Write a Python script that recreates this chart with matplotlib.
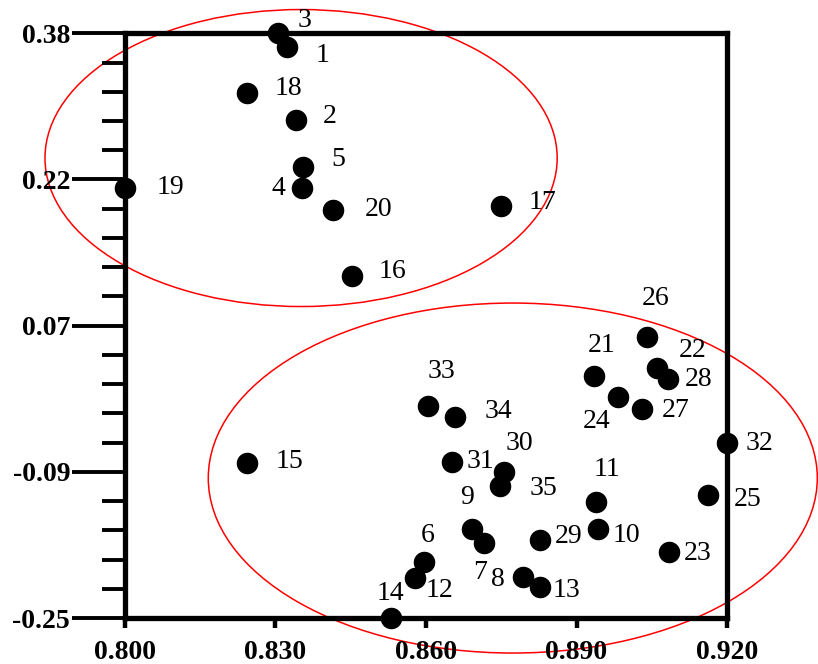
import numpy as np
import matplotlib
matplotlib.use('Agg')
import matplotlib.pyplot as plt
from matplotlib.patches import Ellipse

# sample ids and coordinates
ids = list(range(1, 36))
xs = [0.8322, 0.8341, 0.8304, 0.8352, 0.8355, 0.8596, 0.8716, 0.8794, 0.8691, 0.8942,
      0.8939, 0.8578, 0.8827, 0.8530, 0.8243, 0.8452, 0.8750, 0.8243, 0.8000, 0.8415,
      0.8934, 0.9060, 0.9085, 0.8982, 0.9163, 0.9040, 0.9030, 0.9082, 0.8827, 0.8755,
      0.8652, 0.9200, 0.8603, 0.8658, 0.8748]
ys = [0.3656, 0.2866, 0.3800, 0.2130, 0.2363, -0.1893, -0.1689, -0.2055, -0.1544, -0.1544,
      -0.1247, -0.2072, -0.2163, -0.2500, -0.0833, 0.1185, 0.1939, 0.3154, 0.2136, 0.1896,
      0.0111, 0.0190, -0.1792, -0.0122, -0.1175, 0.0531, -0.0248, 0.0072, -0.1660, -0.0930,
      -0.0816, -0.0618, -0.0212, -0.0338, -0.1078]
x_ticks = [0.800, 0.830, 0.860, 0.890, 0.920]
x_labels = ['0.800', '0.830', '0.860', '0.890', '0.920']
y_labels = ['0.38', '0.22', '0.07', '-0.09', '-0.25']

# label offsets in pixels (dx right, dy down)
offsets = {1: (36, 9), 2: (34, -3), 3: (27, -13), 4: (-23, 0), 5: (35, -7), 6: (4, -26),
           7: (-4, 30), 8: (-25, 3), 9: (-5, -32), 10: (29, 6), 11: (11, -32), 12: (25, 12),
           13: (27, 4), 14: (0, -24), 15: (43, -2), 16: (41, -4), 17: (41, -4), 18: (42, -5),
           19: (45, 0), 20: (45, -1), 21: (8, -30), 22: (36, -18), 23: (28, 1), 24: (-21, 24),
           25: (39, 4), 26: (9, -38), 27: (34, 2), 28: (31, 0), 29: (29, -4), 30: (16, -29),
           31: (28, 0), 32: (32, 0), 33: (14, -34), 34: (43, -6), 35: (43, 2)}

serif = 'Liberation Serif'

fig = plt.figure(figsize=(8.18, 6.64), dpi=100)
ax = fig.add_axes([125 / 818, 46 / 664, 602 / 818, 584.7 / 664])
ax.set_xlim(0.8, 0.92)
ax.set_ylim(-0.25, 0.38)

for s in ax.spines.values():
    s.set_linewidth(3.8)

ax.set_xticks(x_ticks)
ax.set_xticklabels(x_labels, fontfamily=serif, fontweight='bold', fontsize=20)
ax.set_yticks(np.linspace(0.38, -0.25, 5))
ax.set_yticklabels(y_labels, fontfamily=serif, fontweight='bold', fontsize=20)
ax.set_yticks(np.linspace(-0.25, 0.38, 21), minor=True)
ax.tick_params(axis='x', direction='out', length=7.5, width=3.2, pad=8.5)
ax.tick_params(axis='y', which='major', direction='out', length=38, width=2.8, pad=1.5)
ax.tick_params(axis='y', which='minor', direction='out', length=16.5, width=2.8)

ax.scatter(xs, ys, s=210, color='black', zorder=5, clip_on=False)

for i, x, y in zip(ids, xs, ys):
    dx, dy = offsets[i]
    ax.annotate(str(i), (x, y), xytext=(dx, -dy), textcoords='offset pixels',
                ha='center', va='center', fontfamily=serif, fontsize=20,
                annotation_clip=False)

# group ellipses
ax.add_patch(Ellipse((0.8351, 0.2456), 0.1021, 0.3200, fill=False, edgecolor='red',
                     linewidth=1.1, clip_on=False))
ax.add_patch(Ellipse((0.8773, -0.0992), 0.1214, 0.3771, fill=False, edgecolor='red',
                     linewidth=1.1, clip_on=False))

fig.savefig('out.png', dpi=100)
